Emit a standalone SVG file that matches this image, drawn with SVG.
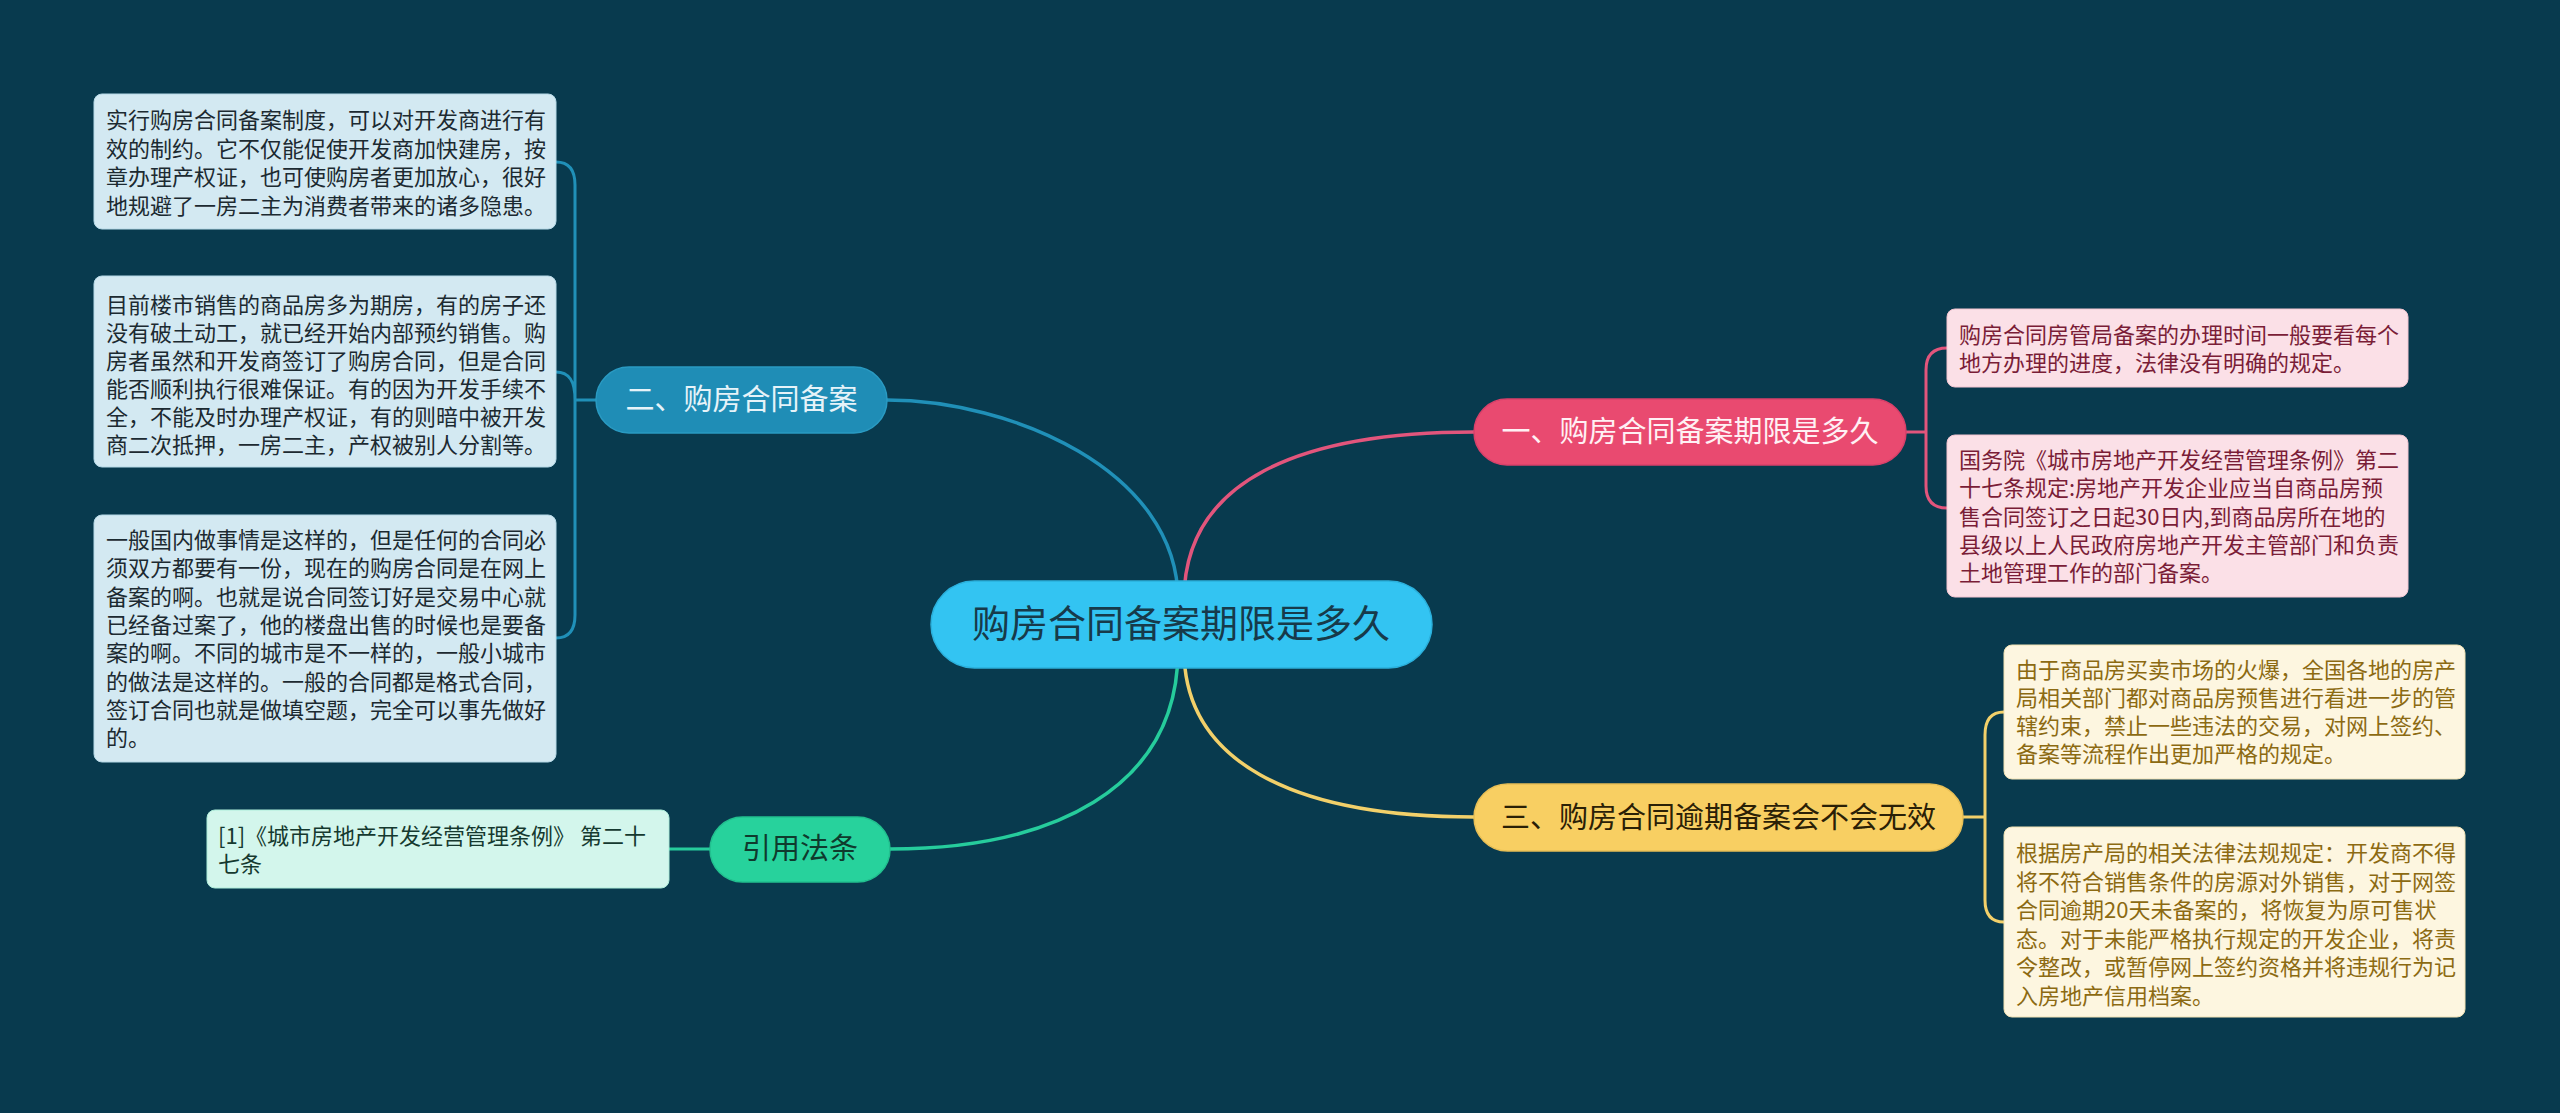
<svg xmlns="http://www.w3.org/2000/svg" width="2560" height="1113" viewBox="0 0 2560 1113">
<style>
text{font-family:"Noto Sans CJK SC","Noto Sans",sans-serif}
.c{fill:none;stroke-width:3.5;stroke-linecap:round}
.b{fill:none;stroke-width:3;stroke-linecap:round}
.blue{stroke:#2090b8}.pink{stroke:#e2557c}.yel{stroke:#f2d06a}.grn{stroke:#26cc9c}
.t22{font-size:22px}
.t29{font-size:29px;text-anchor:middle}
.lb{fill:#d3e9f2;stroke:#b6d9e7;stroke-width:1}
.pb{fill:#fbe0e7;stroke:#f3c5d1;stroke-width:1}
.yb{fill:#fdf6e0;stroke:#f1e2b4;stroke-width:1}
.mb{fill:#d3f6ec;stroke:#aeeeda;stroke-width:1}
.lt{fill:#1c2a31}.pt{fill:#7a1d37}.yt{fill:#8c6a12}.mt{fill:#15392f}
</style>
<rect width="2560" height="1113" fill="#083a4e"/>
<g id="connectors">
<path class="c blue" d="M1178 600 C1178 470 1010 400 887 400"/>
<path class="c pink" d="M1184 600 C1184 480 1300 432 1474 432"/>
<path class="c yel" d="M1184 650 C1184 760 1290 817 1474 817"/>
<path class="c grn" d="M1178 650 C1178 790 1050 849 890 849"/>
<path class="b blue" d="M596 400 L575 400 M575 400 L575 185 Q575 162 556 162 M575 400 C575 382 570 372 556 372 M575 400 L575 615 Q575 638 556 638"/>
<path class="b pink" d="M1906 432 L1926 432 M1926 432 L1926 370 Q1926 348 1947 348 M1926 432 L1926 486 Q1926 508 1947 508"/>
<path class="b yel" d="M1963 817 L1985 817 M1985 817 L1985 735 Q1985 712 2004 712 M1985 817 L1985 900 Q1985 922 2004 922"/>
<path class="b grn" d="M710 849 L669 849"/>
</g>
<g id="root">
<rect x="931" y="581" width="501" height="87" rx="43.5" fill="#33c4f2" stroke="#2bb0dc" stroke-width="1.5"/>
<text x="1181" y="637" font-size="38" text-anchor="middle" fill="#173a4a">购房合同备案期限是多久</text>
</g>
<g id="n2">
<rect x="596" y="367" width="291" height="66" rx="33" fill="#1f8db6" stroke="#2a9ac2" stroke-width="1.5"/>
<text class="t29" x="741.5" y="410" fill="#e6f3f9">二、购房合同备案</text>
</g>
<g id="n1">
<rect x="1474" y="399" width="432" height="66" rx="33" fill="#e94a70" stroke="#d9406a" stroke-width="1.5"/>
<text class="t29" x="1690" y="442" fill="#fff0f4">一、购房合同备案期限是多久</text>
</g>
<g id="n3">
<rect x="1474" y="784" width="489" height="67" rx="33.5" fill="#f8cf62" stroke="#e8bf55" stroke-width="1.5"/>
<text class="t29" x="1718.5" y="828" fill="#2a2006">三、购房合同逾期备案会不会无效</text>
</g>
<g id="n4">
<rect x="710" y="817" width="180" height="65" rx="32.5" fill="#27d29c" stroke="#22c08f" stroke-width="1.5"/>
<text class="t29" x="800" y="859" fill="#0f3a2d">引用法条</text>
</g>
<g id="l1">
<rect class="lb" x="94" y="94" width="462" height="135" rx="8"/>
<text class="t22 lt"><tspan x="106" y="128">实行购房合同备案制度，可以对开发商进行有</tspan><tspan x="106" y="156.5">效的制约。它不仅能促使开发商加快建房，按</tspan><tspan x="106" y="185">章办理产权证，也可使购房者更加放心，很好</tspan><tspan x="106" y="213.5">地规避了一房二主为消费者带来的诸多隐患。</tspan></text>
</g>
<g id="l2">
<rect class="lb" x="94" y="276" width="462" height="191" rx="8"/>
<text class="t22 lt"><tspan x="106" y="313">目前楼市销售的商品房多为期房，有的房子还</tspan><tspan x="106" y="341">没有破土动工，就已经开始内部预约销售。购</tspan><tspan x="106" y="369">房者虽然和开发商签订了购房合同，但是合同</tspan><tspan x="106" y="397">能否顺利执行很难保证。有的因为开发手续不</tspan><tspan x="106" y="425">全，不能及时办理产权证，有的则暗中被开发</tspan><tspan x="106" y="453">商二次抵押，一房二主，产权被别人分割等。</tspan></text>
</g>
<g id="l3">
<rect class="lb" x="94" y="515" width="462" height="247" rx="8"/>
<text class="t22 lt"><tspan x="106" y="548">一般国内做事情是这样的，但是任何的合同必</tspan><tspan x="106" y="576.3">须双方都要有一份，现在的购房合同是在网上</tspan><tspan x="106" y="604.6">备案的啊。也就是说合同签订好是交易中心就</tspan><tspan x="106" y="632.9">已经备过案了，他的楼盘出售的时候也是要备</tspan><tspan x="106" y="661.2">案的啊。不同的城市是不一样的，一般小城市</tspan><tspan x="106" y="689.5">的做法是这样的。一般的合同都是格式合同，</tspan><tspan x="106" y="717.8">签订合同也就是做填空题，完全可以事先做好</tspan><tspan x="106" y="746.1">的。</tspan></text>
</g>
<g id="ref">
<rect class="mb" x="207" y="810" width="462" height="78" rx="8"/>
<text class="t22 mt"><tspan x="218" y="844">[1]《城市房地产开发经营管理条例》 第二十</tspan><tspan x="218" y="872">七条</tspan></text>
</g>
<g id="p1">
<rect class="pb" x="1947" y="309" width="461" height="78" rx="8"/>
<text class="t22 pt"><tspan x="1959" y="343">购房合同房管局备案的办理时间一般要看每个</tspan><tspan x="1959" y="371">地方办理的进度，法律没有明确的规定。</tspan></text>
</g>
<g id="p2">
<rect class="pb" x="1947" y="435" width="461" height="162" rx="8"/>
<text class="t22 pt"><tspan x="1959" y="468">国务院《城市房地产开发经营管理条例》第二</tspan><tspan x="1959" y="496.3">十七条规定:房地产开发企业应当自商品房预</tspan><tspan x="1959" y="524.6">售合同签订之日起30日内,到商品房所在地的</tspan><tspan x="1959" y="552.9">县级以上人民政府房地产开发主管部门和负责</tspan><tspan x="1959" y="581.2">土地管理工作的部门备案。</tspan></text>
</g>
<g id="y1">
<rect class="yb" x="2004" y="645" width="461" height="134" rx="8"/>
<text class="t22 yt"><tspan x="2016" y="678">由于商品房买卖市场的火爆，全国各地的房产</tspan><tspan x="2016" y="706">局相关部门都对商品房预售进行看进一步的管</tspan><tspan x="2016" y="734">辖约束，禁止一些违法的交易，对网上签约、</tspan><tspan x="2016" y="762">备案等流程作出更加严格的规定。</tspan></text>
</g>
<g id="y2">
<rect class="yb" x="2004" y="827" width="461" height="190" rx="8"/>
<text class="t22 yt"><tspan x="2016" y="861">根据房产局的相关法律法规规定：开发商不得</tspan><tspan x="2016" y="889.5">将不符合销售条件的房源对外销售，对于网签</tspan><tspan x="2016" y="918">合同逾期20天未备案的，将恢复为原可售状</tspan><tspan x="2016" y="946.5">态。对于未能严格执行规定的开发企业，将责</tspan><tspan x="2016" y="975">令整改，或暂停网上签约资格并将违规行为记</tspan><tspan x="2016" y="1003.5">入房地产信用档案。</tspan></text>
</g>
</svg>
